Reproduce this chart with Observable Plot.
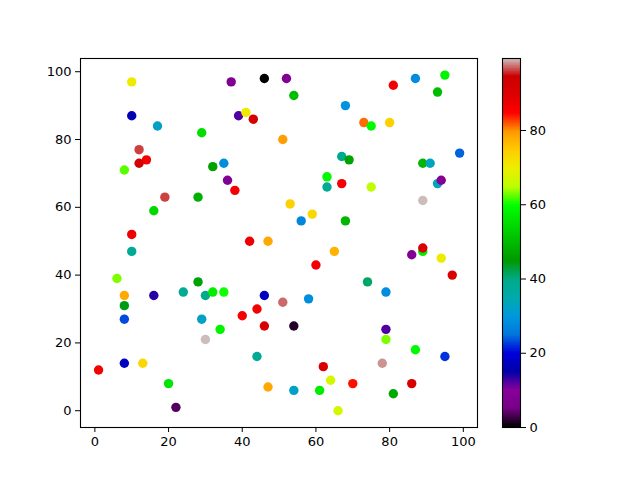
<!DOCTYPE html>
<html>
<head>
<meta charset="utf-8">
<script src="https://cdn.jsdelivr.net/npm/d3@7"></script>
<script src="https://cdn.jsdelivr.net/npm/@observablehq/plot@0.6"></script>
<style>
  html, body { margin: 0; padding: 0; background: white; }
  #wrap { position: relative; width: 640px; height: 480px; }
  #wrap svg { position: absolute; left: 0; top: 0; }
</style>
</head>
<body>
<div id="wrap"></div>
<script>
const xs = [10,37,46,10,39,41,43,17,29,12,14,12,8,32,35,36,38,19,28,16,10,42,47,
  52,54,81,87,95,93,68,73,75,80,51,67,69,89,91,99,63,63,67,75,93,94,53,59,56,68,89,
  10,6,8,8,8,16,24,28,30,32,35,29,30,34,40,44,46,46,44,47,1,8,13,20,22,
  65,60,86,89,89,94,97,74,79,51,58,54,79,79,87,95,78,62,64,70,86,54,61,81,66];
const ys = [97,97,98,87,87,88,86,84,82,77,74,73,71,72,73,68,65,63,63,59,52,50,50,
  98,93,96,98,99,94,90,85,84,85,80,75,74,73,73,76,69,66,67,66,67,68,61,58,56,56,62,
  47,39,34,31,27,34,35,38,34,35,35,27,21,24,28,30,34,25,16,7,12,14,14,8,1,
  47,43,46,47,48,45,40,38,35,32,33,25,24,21,18,16,14,13,9,8,8,6,6,5,0];
const vals = [70,8,0,16,12,70,92,32,55,96,86,92,62,46,28,8,86,96,48,54,87,87,78,
  8,50,86,28,58,50,29,81,59,74,79,39,46,49,33,24,59,38,86,65,33,9,74,73,27,49,99,
  38,63,78,44,23,13.5,38,46,39,57,60,32,99,58,86,86,17,91,38,78,86,17,73,56,3.5,
  77,86,9,57,90,70,90,41,28,97,28,1.5,12,63,59,22,98,91,67,84,91,32,57,47,67];

const xTicks = [0,20,40,60,80,100];
const yTicks = [0,20,40,60,80,100];
const cbTicks = [0,20,40,60,80];

// nipy_spectral colormap stops
const cmapPos = d3.range(21).map(i => i / 20);
const cmapColors = ["#000000","#770088","#880099","#0000aa","#0000dd","#0077dd","#0099dd",
  "#00aaaa","#00aa88","#009900","#00bb00","#00dd00","#00ff00","#bbff00","#eeee00",
  "#ffcc00","#ff9900","#ff0000","#dd0000","#cc0000","#cccccc"];

const vmin = 0, vmax = 99.4;
const colorScale = {
  type: "linear",
  domain: cmapPos.map(p => vmin + p * (vmax - vmin)),
  range: cmapColors,
  interpolate: "rgb"
};

const data = xs.map((x, i) => ({x, y: ys[i], v: vals[i]}));
const font = {fontFamily: "DejaVu Sans, sans-serif", fontSize: "13px", color: "black", background: "white"};

const main = Plot.plot({
  width: 640, height: 480,
  marginLeft: 80, marginRight: 163, marginTop: 58, marginBottom: 53,
  style: font,
  x: {domain: [-3.9, 103.85], ticks: xTicks, tickSize: 5, tickPadding: 4, label: null},
  y: {domain: [-4.95, 103.9], ticks: yTicks, tickSize: 5, tickPadding: 4, label: null},
  color: colorScale,
  marks: [
    Plot.dot(data, {x: "x", y: "y", fill: "v", r: 4.7, stroke: null}),
    Plot.frame({stroke: "black", strokeWidth: 1.1})
  ]
});

const bands = d3.range(0, 99.4, 0.2).map(v => ({v}));
const cbar = Plot.plot({
  width: 640, height: 480,
  marginLeft: 502, marginRight: 120, marginTop: 58, marginBottom: 53,
  style: {...font, background: "transparent"},
  x: {domain: [0, 1], axis: null},
  y: {domain: [0, 99.4], ticks: cbTicks, tickSize: 5, tickPadding: 4, label: null, axis: "right"},
  color: colorScale,
  marks: [
    Plot.rect(bands, {x1: 0, x2: 1, y1: "v", y2: d => Math.min(d.v + 0.6, 99.4), fill: "v", shapeRendering: "crispEdges"}),
    Plot.frame({stroke: "black", strokeWidth: 1.1})
  ]
});

const wrap = document.getElementById("wrap");
wrap.appendChild(main);
wrap.appendChild(cbar);
</script>
</body>
</html>
